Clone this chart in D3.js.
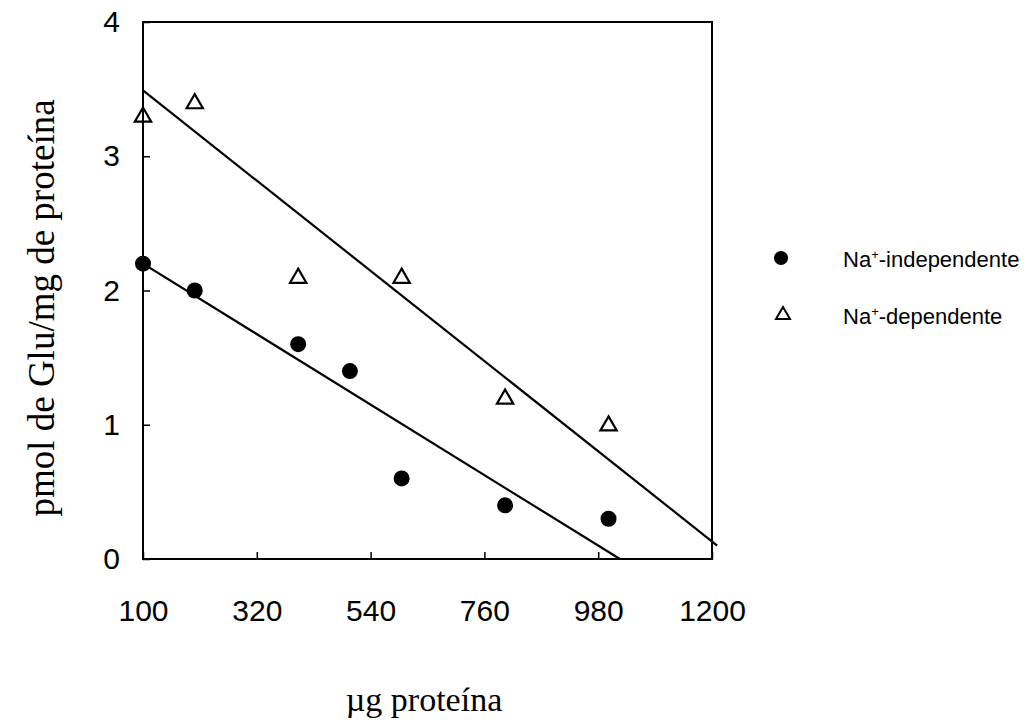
<!DOCTYPE html>
<html>
<head>
<meta charset="utf-8">
<script src="https://cdn.jsdelivr.net/npm/d3@7"></script>
<style>
  body { margin: 0; background: #fff; }
  svg { display: block; }
</style>
</head>
<body>
<div></div>
<script>
// data
let protein = [100, 200, 400, 500, 600, 800, 1000]
let naIndep = [2.2, 2.0, 1.6, 1.4, 0.6, 0.4, 0.3]
let proteinDep = [100, 200, 400, 600, 800, 1000]
let naDep = [3.3, 3.4, 2.1, 2.1, 1.2, 1.0]
// regression lines (end points as drawn)
let fitIndep = [[100, 2.2], [1022, 0]]
let fitDep = [[100, 3.49], [1210, 0.10]]
let xTicks = [100, 320, 540, 760, 980, 1200]
let yTicks = [0, 1, 2, 3, 4]
let legendNames = ["independente", "dependente"]

let w = 1036, h = 725
let padLeft = 143, padRight = 712, padTop = 22, padBottom = 559

let svg = d3.select("div").append("svg").attr("width", w).attr("height", h)

let xScale = d3.scaleLinear().domain([100, 1200]).range([padLeft, padRight])
let yScale = d3.scaleLinear().domain([0, 4]).range([padBottom, padTop])

const xAxis = d3.axisBottom(xScale).tickValues(xTicks).tickSizeInner(-7).tickSizeOuter(0).tickPadding(41).tickFormat(d3.format("d"))
const yAxis = d3.axisLeft(yScale).tickValues(yTicks).tickSizeInner(-7).tickSizeOuter(0).tickPadding(23).tickFormat(d3.format("d"))

let gx = svg.append("g").attr("transform", "translate(0," + padBottom + ")").call(xAxis)
let gy = svg.append("g").attr("transform", "translate(" + padLeft + ",0)").call(yAxis)

for (let g of [gx, gy]) {
    g.select(".domain").remove()
    g.selectAll("line").attr("stroke", "#000").attr("stroke-width", 1.5)
    g.selectAll("text").attr("font-family", "Liberation Sans, Arial, sans-serif").attr("font-size", 30).attr("fill", "#000")
}

// frame
svg.append("rect")
    .attr("x", padLeft).attr("y", padTop)
    .attr("width", padRight - padLeft).attr("height", padBottom - padTop)
    .attr("fill", "none").attr("stroke", "#000").attr("stroke-width", 2)

let line = d3.line().x(d => xScale(d[0])).y(d => yScale(d[1]))

svg.append("path").attr("d", line(fitDep)).attr("fill", "none").attr("stroke", "#000").attr("stroke-width", 2.2)
svg.append("path").attr("d", line(fitIndep)).attr("fill", "none").attr("stroke", "#000").attr("stroke-width", 2.2)

let tri = d3.symbol().type(d3.symbolTriangle).size(115)

svg.selectAll("circle.pt")
    .data(protein)
    .enter()
    .append("circle")
    .attr("class", "pt")
    .attr("cx", d => xScale(d))
    .attr("cy", (d, i) => yScale(naIndep[i]))
    .attr("r", 8)
    .attr("fill", "#000")

svg.selectAll("path.tri")
    .data(proteinDep)
    .enter()
    .append("path")
    .attr("class", "tri")
    .attr("d", tri)
    .attr("transform", (d, i) => "translate(" + xScale(d) + "," + (yScale(naDep[i]) + 1) + ")")
    .attr("fill", "none")
    .attr("stroke", "#000")
    .attr("stroke-width", 2.2)

// legend
let legend = svg.append("g")
legend.append("circle").attr("cx", 781).attr("cy", 258).attr("r", 7).attr("fill", "#000")
legend.append("path").attr("d", d3.symbol().type(d3.symbolTriangle).size(85))
    .attr("transform", "translate(783,315)")
    .attr("fill", "none").attr("stroke", "#000").attr("stroke-width", 2)

legendNames.forEach((name, i) => {
    let t = legend.append("text")
        .attr("x", 843).attr("y", 267 + i * 57)
        .attr("font-family", "Liberation Sans, Arial, sans-serif")
        .attr("font-size", 22)
        .attr("fill", "#000")
    t.append("tspan").text("Na")
    t.append("tspan").attr("font-size", 13).attr("dy", -8).text("+")
    t.append("tspan").attr("dy", 8).text("-" + name)
})

// axis titles
svg.append("text")
    .attr("transform", "translate(54,308) rotate(-90)")
    .attr("text-anchor", "middle")
    .attr("font-family", "Liberation Serif, Times New Roman, serif")
    .attr("font-size", 37)
    .text("pmol de Glu/mg de proteína")

svg.append("text")
    .attr("x", 424).attr("y", 711)
    .attr("text-anchor", "middle")
    .attr("font-family", "Liberation Serif, Times New Roman, serif")
    .attr("font-size", 34)
    .text("µg proteína")
</script>
</body>
</html>
